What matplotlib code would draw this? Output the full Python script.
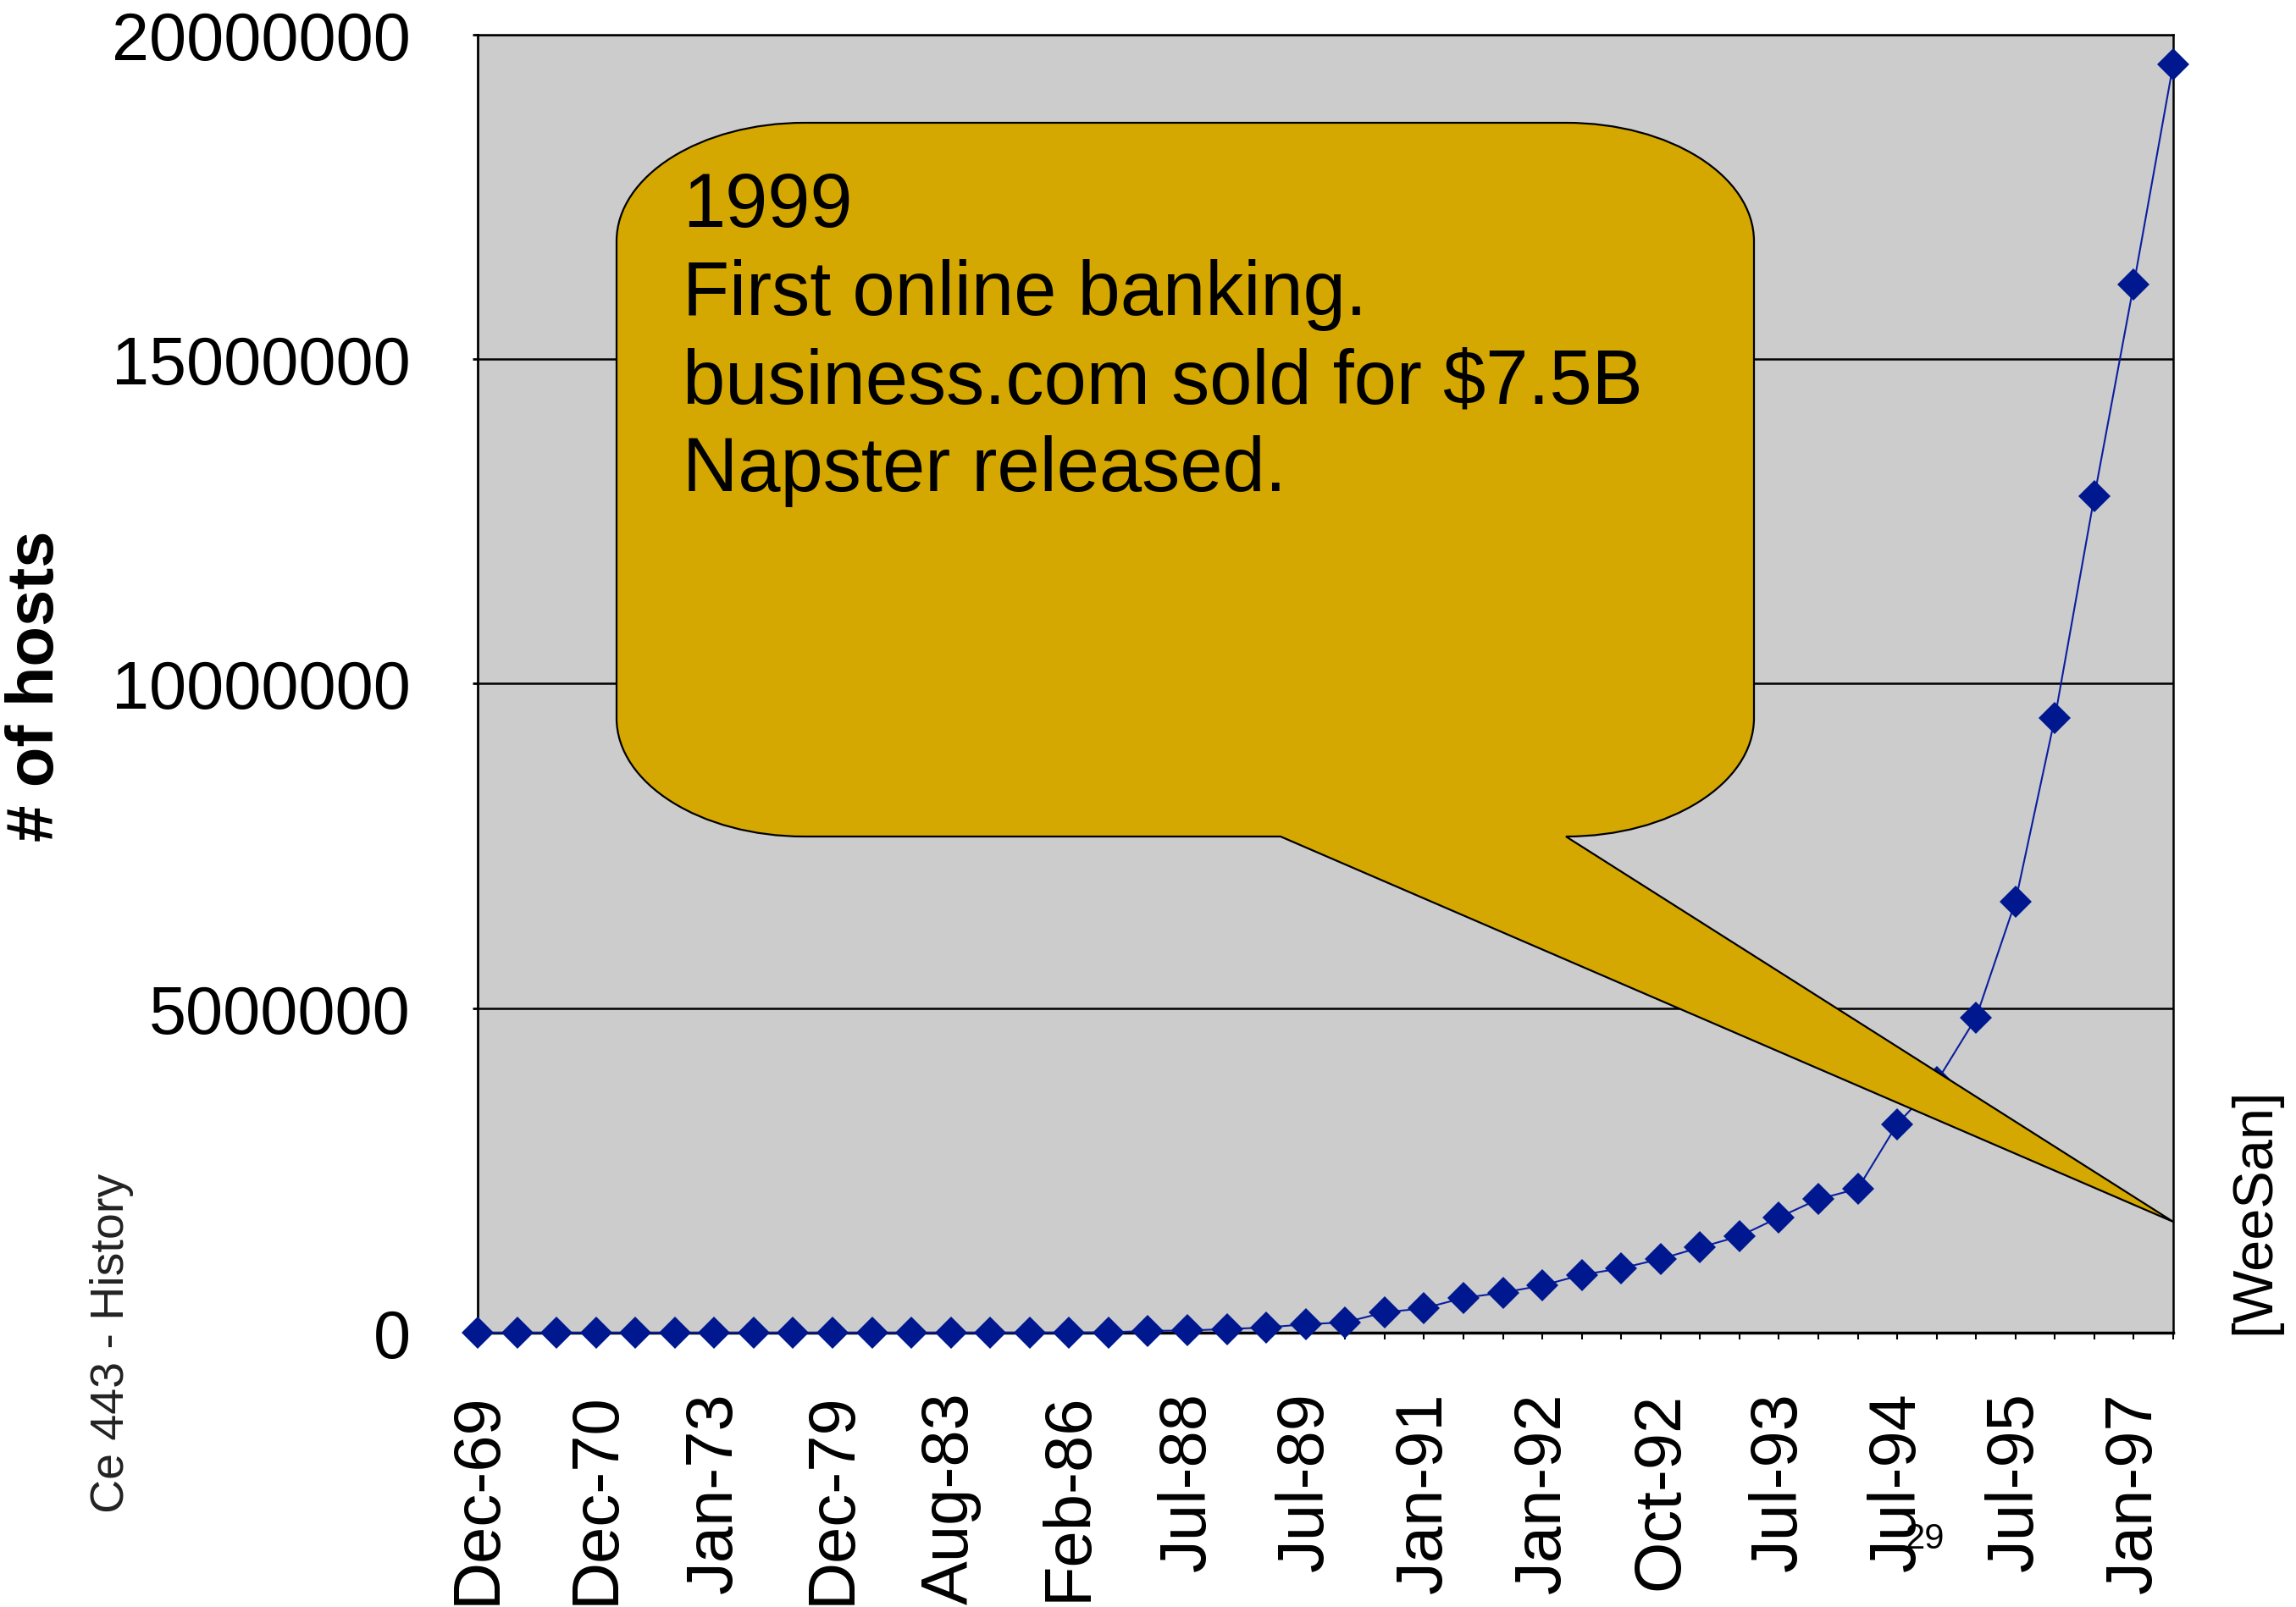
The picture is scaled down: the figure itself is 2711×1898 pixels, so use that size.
import matplotlib
matplotlib.use('Agg')
import matplotlib.pyplot as plt
from matplotlib.path import Path
from matplotlib.patches import PathPatch
from matplotlib.transforms import Affine2D
import numpy as np

# ---------------- data ----------------
categories = ['Dec-69', 'Jun-70', 'Oct-70', 'Dec-70', 'Apr-71', 'Oct-72', 'Jan-73', 'Jun-74',
              'Mar-77', 'Dec-79', 'Aug-81', 'May-82', 'Aug-83', 'Oct-84', 'Oct-85', 'Feb-86',
              'Nov-86', 'Dec-87', 'Jul-88', 'Oct-88', 'Jan-89', 'Jul-89', 'Oct-89', 'Oct-90',
              'Jan-91', 'Jul-91', 'Oct-91', 'Jan-92', 'Apr-92', 'Jul-92', 'Oct-92', 'Jan-93',
              'Apr-93', 'Jul-93', 'Oct-93', 'Jan-94', 'Jul-94', 'Oct-94', 'Jan-95', 'Jul-95',
              'Jan-96', 'Jul-96', 'Jan-97', 'Jul-97']
hosts = [4, 9, 11, 13, 23, 31, 35, 62, 111, 188, 213, 235, 562, 1024, 1961, 2308,
         5089, 28174, 33000, 56000, 80000, 130000, 159000, 313000, 376000, 535000,
         617000, 727000, 890000, 992000, 1136000, 1313000, 1486000, 1776000, 2056000,
         2217000, 3212000, 3864000, 4852000, 6642000, 9472000, 12881000, 16146000, 19540000]
label_step = 3
y_ticks = [0, 5000000, 10000000, 15000000, 20000000]
y_label = '# of hosts'
callout_lines = ['1999', 'First online banking.', 'business.com sold for $7.5B', 'Napster released.']
footer_left = 'Ce 443 - History'
footer_right = '[WeeSan]'
page_number = '29'

# ---------------- figure ----------------
plt.rcParams['font.family'] = ['Liberation Sans', 'DejaVu Sans']
W, H = 2711, 1899
DPI = 100
fig = plt.figure(figsize=(W / DPI, H / DPI), dpi=DPI)
fig.patch.set_facecolor('white')

ax_l, ax_r, ax_t, ax_b = 564, 2566, 41.5, 1575
ax = fig.add_axes([ax_l / W, 1 - ax_b / H, (ax_r - ax_l) / W, (ax_b - ax_t) / H])
ax.set_facecolor('#CCCCCC')

x = np.arange(len(hosts))
ax.plot(x, hosts, color='#0A1EA0', lw=1.5, marker='D', ms=19,
        mfc='#00188F', mec='#00188F', mew=0, clip_on=False, zorder=5)

ax.set_xlim(0, len(hosts) - 1)
ax.set_ylim(y_ticks[0], y_ticks[-1])
ax.set_yticks(y_ticks)
ax.set_yticklabels([str(v) for v in y_ticks])

major = x[::label_step]
ax.set_xticks(major)
ax.set_xticklabels([categories[i] for i in major], rotation=90)
ax.set_xticks(x, minor=True)

ax.yaxis.grid(True, color='black', lw=1.8)
ax.set_axisbelow(True)

for side, lw in [('left', 2.0), ('bottom', 2.5), ('top', 1.8), ('right', 1.8)]:
    ax.spines[side].set_color('black')
    ax.spines[side].set_linewidth(lw)

ax.tick_params(axis='y', direction='out', length=4, width=2, pad=53, labelsize=57)
ax.tick_params(axis='x', which='both', direction='out', length=6, width=1.5, pad=44, labelsize=56)

ax.set_ylabel('')
fig.text(43 / W, 1 - 810 / H, y_label, rotation=90, ha='center', va='center',
         fontsize=56, fontweight='bold')

# ---------------- callout (pixel coordinates, y down) ----------------
px = Affine2D().scale(1 / W, -1 / H).translate(0, 1) + fig.transFigure

L, R, T, B = 728, 2071, 146, 989
rx, ry = 222, 140
k = 0.5523
tail_left, tail_right = 1512, R - rx
tip = (2566, 1444)

verts = [
    (L + rx, T),
    (R - rx, T),
    (R - rx + k * rx, T), (R, T + ry - k * ry), (R, T + ry),
    (R, B - ry),
    (R, B - ry + k * ry), (R - rx + k * rx, B), (R - rx, B),
    tip,
    (tail_left, B),
    (L + rx, B),
    (L + rx - k * rx, B), (L, B - ry + k * ry), (L, B - ry),
    (L, T + ry),
    (L, T + ry - k * ry), (L + rx - k * rx, T), (L + rx, T),
    (L + rx, T),
]
codes = [Path.MOVETO, Path.LINETO,
         Path.CURVE4, Path.CURVE4, Path.CURVE4,
         Path.LINETO,
         Path.CURVE4, Path.CURVE4, Path.CURVE4,
         Path.LINETO, Path.LINETO, Path.LINETO,
         Path.CURVE4, Path.CURVE4, Path.CURVE4,
         Path.LINETO,
         Path.CURVE4, Path.CURVE4, Path.CURVE4,
         Path.CLOSEPOLY]
callout = PathPatch(Path(verts, codes), facecolor='#D4A800', edgecolor='black',
                    lw=1.6, transform=px, clip_on=False, zorder=10)
ax.add_patch(callout)

baselines = [268, 372, 477, 580]
for line, yb in zip(callout_lines, baselines):
    ax.text(806, yb, line, transform=px, fontsize=65, ha='left', va='baseline',
            color='black', zorder=11, clip_on=False)

# ---------------- slide decorations ----------------
fig.text(132 / W, 1 - 1586 / H, footer_left, rotation=90, ha='center', va='center',
         fontsize=40, color='#222222')
fig.text(2662 / W, 1 - 1430 / H, footer_right, rotation=90, ha='center', va='center',
         fontsize=48, color='black')
fig.text(2273 / W, 1 - 1818 / H, page_number, ha='center', va='center',
         fontsize=30, color='black')

fig.savefig('out.png', dpi=DPI, facecolor='white')
